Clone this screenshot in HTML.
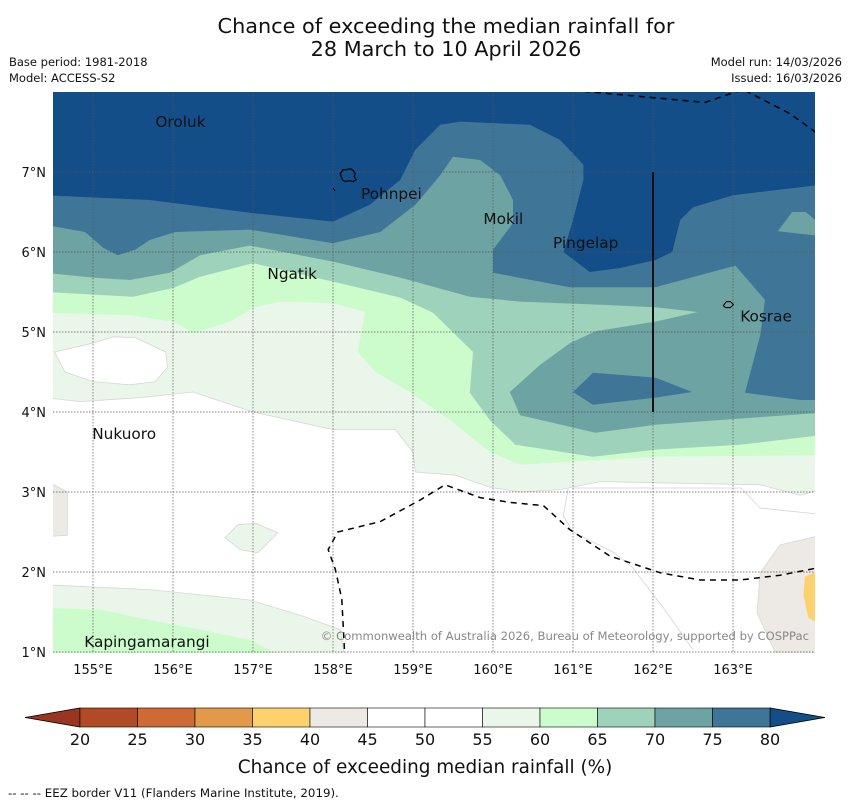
<!DOCTYPE html>
<html><head><meta charset="utf-8">
<style>
html,body{margin:0;padding:0;background:#fff;}
body{width:850px;height:804px;overflow:hidden;font-family:"Liberation Sans",sans-serif;}
svg text{font-family:"DejaVu Sans","Liberation Sans",sans-serif;}
</style></head>
<body>
<svg id="chart" width="850" height="804" viewBox="0 0 850 804" xmlns="http://www.w3.org/2000/svg">
<text x="446" y="33" font-size="20.8" text-anchor="middle" fill="#111">Chance of exceeding the median rainfall for</text>
<text x="446" y="56" font-size="20.8" text-anchor="middle" fill="#111">28 March to 10 April 2026</text>
<text x="9" y="66" font-size="11.5" fill="#111">Base period: 1981-2018</text>
<text x="9" y="82" font-size="11.5" fill="#111">Model: ACCESS-S2</text>
<text x="842" y="66" font-size="11.5" text-anchor="end" fill="#111">Model run: 14/03/2026</text>
<text x="842" y="82" font-size="11.5" text-anchor="end" fill="#111">Issued: 16/03/2026</text>
<defs><clipPath id="mapclip"><rect x="53" y="92" width="762" height="561"/></clipPath></defs>
<g id="map" clip-path="url(#mapclip)"></g>
<g id="axes"></g>
<g id="cbar"></g>
<text x="425" y="773" font-size="18.4" text-anchor="middle" fill="#111">Chance of exceeding median rainfall (%)</text>
<text x="8" y="797" font-size="11.8" fill="#111">--  --  -- EEZ border V11 (Flanders Marine Institute, 2019).</text>
</svg>
<script>
// ---- data ----
const colorLevels = [20,25,30,35,40,45,50,55,60,65,70,75,80];
const colorFills = ["#b34a26","#cf6a35","#e3994a","#fdd26e","#ede9e4","#ffffff","#ffffff","#eaf6ea","#ccfccc","#9fd2bb","#6ea3a3","#3f7698"];
const lowExtendColor = "#9a3522";
const highExtendColor = "#134e89";
const lonTicks = [155,156,157,158,159,160,161,162,163];
const latTicks = [1,2,3,4,5,6,7];
const region55 = [[154.4,4.18],[154.84,4.13],[155.59,4.18],[156.25,4.25],[157.0,4.0],[158.0,3.78],[158.78,3.78],[159.0,3.5],[159.03,3.25],[159.53,3.21],[159.96,3.06],[160.34,3.0],[160.84,3.03],[161.34,3.13],[163.34,3.09],[163.84,2.96],[164.1,3.03],[164.1,8.1],[154.4,8.1]];
const hole50 = [[154.52,4.75],[154.65,4.5],[155.0,4.38],[155.46,4.34],[155.78,4.38],[155.93,4.56],[155.91,4.75],[155.53,4.93],[155.25,4.94],[155.0,4.86]];
const region60 = [[154.4,5.24],[155.46,5.21],[156.0,5.13],[156.25,4.99],[156.71,5.13],[157.0,5.3],[157.34,5.38],[158.0,5.36],[158.4,5.25],[158.31,4.75],[158.53,4.5],[158.96,4.25],[159.46,3.9],[159.96,3.5],[160.34,3.34],[161.34,3.4],[162.03,3.44],[164.1,3.46],[164.1,8.1],[154.4,8.1]];
const region65 = [[154.4,5.5],[155.5,5.44],[156.0,5.55],[156.34,5.69],[157.0,5.86],[158.0,5.63],[158.84,5.43],[159.25,5.24],[159.75,4.75],[159.71,4.24],[159.96,3.9],[160.28,3.59],[161.25,3.44],[162.03,3.53],[163.09,3.59],[164.1,3.71],[164.1,8.1],[154.4,8.1]];
const region70 = [[154.4,5.74],[155.0,5.68],[155.46,5.65],[155.96,5.74],[156.34,5.96],[156.96,6.08],[158.0,5.88],[158.84,5.68],[159.71,5.44],[160.34,5.38],[161.34,5.34],[162.03,5.31],[162.56,5.25],[162.03,5.13],[161.28,5.01],[160.96,4.86],[160.59,4.59],[160.21,4.25],[160.34,3.96],[161.28,3.74],[162.03,3.84],[162.84,3.9],[164.1,3.99],[164.1,8.1],[154.4,8.1]];
const region75 = [[154.4,6.34],[154.9,6.25],[155.13,6.05],[155.31,5.96],[155.53,6.03],[155.71,6.15],[156.03,6.25],[156.96,6.28],[158.0,6.11],[158.59,6.25],[159.03,6.59],[159.34,6.96],[159.5,7.19],[159.84,7.15],[160.09,6.96],[160.25,6.65],[160.25,6.36],[160.0,6.03],[160.0,5.74],[160.96,5.56],[162.03,5.56],[163.03,5.83],[163.4,5.4],[163.34,4.96],[163.15,4.24],[163.84,4.15],[164.1,4.15],[164.1,8.1],[154.4,8.1]];
const blob75 = [[161.0,4.25],[161.25,4.49],[162.03,4.43],[162.49,4.25],[162.03,4.18],[161.25,4.09]];
const blob70 = [[163.56,6.26],[163.74,6.5],[163.91,6.5],[164.1,6.34],[164.1,6.2]];
const region80 = [[154.4,8.1],[164.1,8.1],[164.1,6.84],[163.0,6.71],[162.5,6.56],[162.34,6.4],[162.24,6.0],[162.03,5.9],[161.59,5.8],[161.21,5.75],[160.88,6.0],[161.0,6.4],[161.13,6.9],[161.13,7.09],[160.84,7.4],[160.46,7.59],[159.59,7.63],[159.34,7.59],[159.03,7.28],[158.84,6.9],[158.46,6.59],[158.0,6.38],[156.96,6.49],[155.71,6.65],[154.4,6.71]];
const south55 = [[154.4,1.84],[155.71,1.78],[156.96,1.65],[157.59,1.46],[158.09,1.28],[158.15,0.9],[154.4,0.9]];
const south60 = [[154.4,1.55],[155.09,1.53],[155.71,1.4],[156.34,1.28],[156.96,1.15],[157.46,0.9],[154.4,0.9]];
const blob55 = [[156.65,2.43],[156.81,2.59],[157.03,2.61],[157.31,2.49],[157.06,2.24],[156.84,2.28]];
const gray40West = [[154.4,3.15],[154.68,3.0],[154.68,2.46],[154.4,2.44]];
const gray40East = [[163.34,1.99],[163.59,2.34],[164.1,2.46],[164.1,0.9],[163.53,0.99],[163.3,1.49]];
const orange35 = [[164.1,2.03],[163.9,1.94],[163.88,1.71],[163.94,1.43],[164.1,1.34]];
const eezNorth = [[161.0,8.02],[162.65,7.87],[163.09,8.02]];
const eezNorthEast = [[163.15,8.02],[163.71,7.73],[164.1,7.45]];
const eezSouth = [[158.15,0.9],[158.11,1.66],[158.03,2.03],[157.94,2.28],[158.06,2.5],[158.59,2.63],[159.09,2.9],[159.4,3.09],[159.84,2.93],[160.21,2.87],[160.63,2.83],[160.96,2.53],[161.46,2.2],[162.09,1.99],[162.59,1.9],[163.09,1.9],[163.59,1.96],[164.1,2.06]];
const contour50a = [[160.94,3.05],[160.88,2.7],[161.0,2.5],[161.5,2.25],[161.75,2.05],[162.13,1.55],[162.5,1.03]];
const contour50b = [[161.0,3.05],[163.1,3.05],[163.34,2.8],[164.1,2.72]];
const places = ["Oroluk","Pohnpei","Mokil","Pingelap","Ngatik","Kosrae","Nukuoro","Kapingamarangi"];
const placeLon = [155.78,158.35,159.88,160.75,157.18,163.09,154.99,154.89];
const placeLat = [7.56,6.66,6.35,6.05,5.66,5.13,3.66,1.06];
const cutLineLon = [162.0,162.0];
const cutLineLat = [7.0,4.0];

// ---- axes ----
const X = lon => 53 + (lon - 154.5) * 80;
const Y = lat => 92 + (8 - lat) * 80;
const NS = "http://www.w3.org/2000/svg";
const map = document.getElementById('map');
const axes = document.getElementById('axes');
const cbar = document.getElementById('cbar');
function mk(tag, attrs, parent){ const e=document.createElementNS(NS,tag); for(const k in attrs) e.setAttribute(k,attrs[k]); parent.appendChild(e); return e; }
function pts(arr){ return arr.map(p=>X(p[0]).toFixed(1)+','+Y(p[1]).toFixed(1)).join(' '); }

let bg = mk('rect',{x:53,y:92,width:762,height:561,fill:'#ffffff'},map);



const layers = [
 ['region-55', region55, colorFills[7]],
 ['hole-50', hole50, '#ffffff'],
 ['region-60', region60, colorFills[8]],
 ['region-65', region65, colorFills[9]],
 ['region-70', region70, colorFills[10]],
 ['region-75', region75, colorFills[11]],
 ['blob-70', blob70, colorFills[10]],
 ['blob-75', blob75, colorFills[11]],
 ['region-80', region80, highExtendColor],
 ['south-55', south55, colorFills[7]],
 ['south-60', south60, colorFills[8]],
 ['blob-55', blob55, colorFills[7]],
 ['gray-40-west', gray40West, colorFills[4]],
 ['gray-40-east', gray40East, colorFills[4]],
 ['orange-35', orange35, colorFills[3]]
];
layers.forEach(l=>{
  const stroke = (l[2]==='#ffffff'||l[2]===colorFills[7]||l[2]===colorFills[4]) ? '#d4d8d4' : 'none';
  const p = mk('polygon',{points:pts(l[1]),fill:l[2],stroke:stroke,'stroke-width':0.8},map);
  
  
});
[contour50a,contour50b].forEach(c=>{
  const p = mk('polyline',{points:pts(c),fill:'none',stroke:'#d4d4d4','stroke-width':0.8},map);
  
  
});
lonTicks.forEach(t=>{
  const g = mk('line',{x1:X(t),x2:X(t),y1:92,y2:653,stroke:'#555','stroke-width':0.7,'stroke-dasharray':'1.5,1.5'},map);
  
  
});
latTicks.forEach(t=>{
  const g = mk('line',{x1:53,x2:815,y1:Y(t),y2:Y(t),stroke:'#555','stroke-width':0.7,'stroke-dasharray':'1.5,1.5'},map);
  
  
});
[eezNorth,eezNorthEast,eezSouth].forEach(c=>{
  const p = mk('polyline',{points:pts(c),fill:'none',stroke:'#000','stroke-width':1.5,'stroke-dasharray':'6,5'},map);
  
  
});
let cl = mk('line',{x1:X(cutLineLon[0]),x2:X(cutLineLon[1]),y1:Y(cutLineLat[0]),y2:Y(cutLineLat[1]),stroke:'#111','stroke-width':2},map);


let pohn = mk('path',{d:`M${X(158.09)},${Y(6.98)} l3,-4 l4,0 l3,-1 l3,2 l2,3 l-1,3 l2,3 l-3,2 l-4,-1 l-4,1 l-3,-2 l-1,-3z`,fill:'none',stroke:'#000','stroke-width':1.2},map);


let pohnDot = mk('line',{x1:333,y1:188,x2:335,y2:191,stroke:'#000','stroke-width':1},map);


let kos = mk('path',{d:`M${X(162.88)},${Y(5.33)} l3,-4 l4,0 l3,3 l-3,3 l-5,0z`,fill:'none',stroke:'#000','stroke-width':1.1},map);


places.forEach((n,i)=>{
  const t = mk('text',{x:X(placeLon[i]),y:Y(placeLat[i]),'font-size':15.3,fill:'#111'},map);
  t.textContent = n;
  
  
});
let cp = mk('text',{x:809,y:640,'font-size':11.6,fill:'#888','text-anchor':'end'},map);
cp.textContent = '© Commonwealth of Australia 2026, Bureau of Meteorology, supported by COSPPac';


lonTicks.forEach(t=>{
  const e = mk('text',{x:X(t),y:674,'font-size':13,'text-anchor':'middle',fill:'#111'},axes);
  e.textContent = t+'°E';
  
  
});
latTicks.forEach(t=>{
  const e = mk('text',{x:46,y:Y(t)+5,'font-size':13,'text-anchor':'end',fill:'#111'},axes);
  e.textContent = t+'°N';
  
  
});
const cbX = v => 80 + (v - 20) * 11.5;
const cbTop = 708, cbBot = 727, cbMid = 717.5;
let lt = mk('polygon',{points:`25,${cbMid} ${cbX(20)},${cbTop} ${cbX(20)},${cbBot}`,fill:lowExtendColor,stroke:'#000','stroke-width':0.8},cbar);


let ht = mk('polygon',{points:`825,${cbMid} ${cbX(80)},${cbTop} ${cbX(80)},${cbBot}`,fill:highExtendColor,stroke:'#000','stroke-width':0.8},cbar);


colorFills.forEach((c,i)=>{
  const r = mk('rect',{x:cbX(colorLevels[i]),y:cbTop,width:cbX(colorLevels[i+1])-cbX(colorLevels[i]),height:cbBot-cbTop,fill:c,stroke:'#000','stroke-width':0.6},cbar);
  
  
});
colorLevels.forEach(v=>{
  const t = mk('text',{x:cbX(v),y:745,'font-size':16,'text-anchor':'middle',fill:'#111'},cbar);
  t.textContent = v;
  
  
});
</script>
</body></html>
